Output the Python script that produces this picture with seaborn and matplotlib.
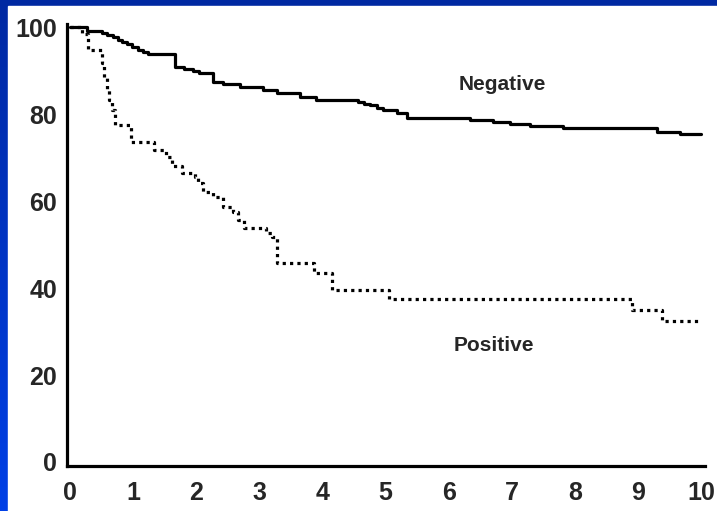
import numpy as np
import pandas as pd
import seaborn as sns
import matplotlib.pyplot as plt
from matplotlib.colors import LinearSegmentedColormap
from matplotlib.patches import Rectangle

# Survival curves (years, % surviving)
neg_time = [0.0, 0.27, 0.5, 0.58, 0.68, 0.76, 0.83, 0.9, 0.98, 1.08, 1.16, 1.24,
            1.66, 1.8, 1.95, 2.05, 2.27, 2.43, 2.69, 3.06, 3.28, 3.65, 3.9, 4.57,
            4.66, 4.75, 4.86, 4.96, 5.18, 5.34, 6.34, 6.7, 6.97, 7.29, 7.81, 9.3,
            9.67, 10.0]
neg_surv = [100.0, 99.1, 98.7, 98.2, 97.6, 97.0, 96.6, 96.1, 95.5, 94.7, 94.3, 93.9,
            90.9, 90.4, 89.8, 89.4, 87.4, 87.0, 86.3, 85.5, 84.8, 84.0, 83.2, 82.7,
            82.4, 82.1, 81.5, 80.9, 80.2, 79.2, 78.6, 78.2, 77.7, 77.2, 76.9, 75.9,
            75.4, 75.4]

pos_time = [0.0, 0.19, 0.29, 0.5, 0.54, 0.58, 0.62, 0.66, 0.72, 0.96, 1.33, 1.52,
            1.62, 1.78, 1.98, 2.02, 2.1, 2.26, 2.42, 2.58, 2.66, 2.76, 3.1, 3.2,
            3.28, 3.86, 4.15, 5.06, 8.9, 9.38, 9.95]
pos_surv = [100.0, 98.5, 94.7, 91.7, 88.3, 85.5, 83.2, 80.9, 77.5, 73.6, 71.7, 70.1,
            68.0, 66.4, 65.6, 64.1, 62.1, 61.0, 58.7, 57.5, 55.6, 53.9, 52.6, 51.8,
            45.7, 43.5, 39.5, 37.5, 35.0, 32.5, 32.5]

x_ticks = list(range(0, 11))
y_ticks = [0, 20, 40, 60, 80, 100]

neg = pd.DataFrame({"time": neg_time, "surv": neg_surv})
pos = pd.DataFrame({"time": pos_time, "surv": pos_surv})

sns.set_style("white")
plt.rcParams["font.family"] = ["Liberation Sans", "DejaVu Sans"]

fig = plt.figure(figsize=(7.17, 5.11), dpi=100)

# blue slide background with white panel
bg = fig.add_axes([0, 0, 1, 1], zorder=-2)
cmap = LinearSegmentedColormap.from_list("slide", ["#0029A2", "#0040E6"])
bg.imshow(np.linspace(0, 1, 256).reshape(-1, 1), aspect="auto", cmap=cmap,
          extent=[0, 1, 0, 1])
bg.add_patch(Rectangle((8 / 717, 0), 1, 505 / 511, color="white", zorder=2))
bg.set_xlim(0, 1)
bg.set_ylim(0, 1)
bg.axis("off")

ax = fig.add_axes([67 / 717, 45 / 511, 638 / 717, 442 / 511])
ax.set_facecolor("white")

sns.lineplot(data=neg, x="time", y="surv", ax=ax, color="black", linewidth=2.3,
             drawstyle="steps-post", estimator=None, sort=False)
sns.lineplot(data=pos, x="time", y="surv", ax=ax, color="black", linewidth=2.3,
             drawstyle="steps-post", estimator=None, sort=False,
             linestyle=(0, (1.0, 1.3)))

ax.text(6.85, 86.7, "Negative", fontsize=15, fontweight="bold", ha="center", va="center")
ax.text(6.72, 26.7, "Positive", fontsize=15, fontweight="bold", ha="center", va="center")

ax.set_xlim(-0.048, 10.06)
ax.set_ylim(-0.92, 100.7)
ax.set_xticks(x_ticks)
ax.set_yticks(y_ticks)
ax.set_xlabel("")
ax.set_ylabel("")

sns.despine(ax=ax)
for side in ["left", "bottom"]:
    ax.spines[side].set_linewidth(2.3)
    ax.spines[side].set_color("black")

ax.tick_params(axis="both", direction="out", length=3, width=1, color="black",
               labelsize=18)
ax.tick_params(axis="x", pad=8)
ax.tick_params(axis="y", pad=4)
for lab in ax.get_xticklabels() + ax.get_yticklabels():
    lab.set_fontweight("bold")

fig.savefig("out.png", dpi=100)
